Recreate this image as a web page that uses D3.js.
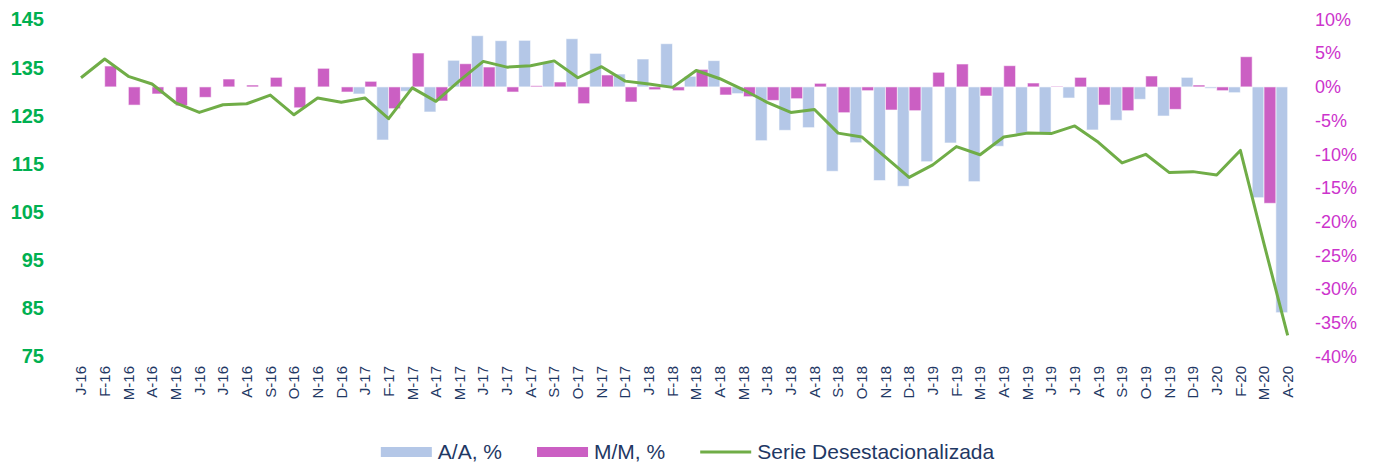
<html>
<head>
<meta charset="utf-8">
<title>Serie Desestacionalizada</title>
<script src="https://cdnjs.cloudflare.com/ajax/libs/d3/7.8.5/d3.min.js"></script>
<style>
  body { margin: 0; background: #fff; }
  text { font-family: "Liberation Sans", Arial, sans-serif; }
</style>
</head>
<body>
<div id="chart"></div>

<script>
// meses, de enero 2016 a abril 2020
var meses = ["J-16","F-16","M-16","A-16","M-16","J-16","J-16","A-16","S-16","O-16","N-16","D-16",
             "J-17","F-17","M-17","A-17","M-17","J-17","J-17","A-17","S-17","O-17","N-17","D-17",
             "J-18","F-18","M-18","A-18","M-18","J-18","J-18","A-18","S-18","O-18","N-18","D-18",
             "J-19","F-19","M-19","A-19","M-19","J-19","J-19","A-19","S-19","O-19","N-19","D-19",
             "J-20","F-20","M-20","A-20"];

// indice (eje izquierdo)
var serie = [132.9,136.8,133.2,131.6,127.7,125.7,127.3,127.5,129.3,125.2,128.7,127.8,
             128.7,124.4,130.8,128.0,132.3,136.3,135.1,135.4,136.4,132.9,135.2,132.2,
             131.6,130.9,134.4,132.7,130.4,127.8,125.7,126.3,121.4,120.6,116.4,112.2,
             114.8,118.6,116.9,120.6,121.4,121.3,122.9,119.5,115.2,117.0,113.2,113.4,
             112.7,117.8,98.4,79.4];

// variacion anual, % (eje derecho)
var aa = [null,null,null,null,null,null,null,null,null,null,null,null,
          -1.05,-7.88,-0.65,-3.72,3.95,7.6,6.86,6.91,3.65,7.15,4.98,1.91,
          4.14,6.41,1.57,3.9,-1.0,-7.98,-6.44,-6.05,-12.52,-8.28,-13.9,-14.75,
          -11.1,-8.32,-14.06,-8.81,-6.99,-6.79,-1.65,-6.39,-4.96,-1.84,-4.32,1.42,
          -0.21,-0.86,-16.44,-33.5];

// variacion mensual, % (eje derecho)
var mm = [null,3.1,-2.7,-1.05,-2.8,-1.55,1.17,0.28,1.42,-3.1,2.76,-0.76,
          0.83,-3.23,5.03,-2.09,3.44,2.95,-0.76,0.18,0.73,-2.49,1.77,-2.24,
          -0.42,-0.56,2.6,-1.2,-1.45,-2.0,-1.75,0.53,-3.83,-0.56,-3.43,-3.53,
          2.17,3.4,-1.35,3.15,0.58,0.1,1.42,-2.69,-3.53,1.62,-3.33,0.28,
          -0.56,4.48,-17.27,null];

var ticksIzq = [75,85,95,105,115,125,135,145];
var ticksDer = [-40,-35,-30,-25,-20,-15,-10,-5,0,5,10];

var colAA = "#b4c7e7", colMM = "#cb5fc3", colLinea = "#70ad47";
var verde = "#00b050", magenta = "#cc33cc", azul = "#1f3864";

var width = 1374, height = 464;
var top_ = 19.5, bottom = 356.5, left = 69.2, right = 1299.5;

var svg = d3.select("#chart")
    .append("svg")
    .attr("width", width)
    .attr("height", height)
    .style("background", "#fff");

// escalas
var x = d3.scaleBand()
    .domain(d3.range(meses.length))
    .range([left, right])
    .padding(0);

var yIzq = d3.scaleLinear().domain([75, 145]).range([bottom, top_]);
var yDer = d3.scaleLinear().domain([-40, 10]).range([bottom, top_]);

var half = x.bandwidth() / 2;

// barras A/A (mitad izquierda)
svg.append("g")
    .selectAll("rect")
    .data(aa.map(function(v, i) { return {i: i, v: v}; }).filter(function(d) { return d.v !== null; }))
    .enter()
    .append("rect")
    .attr("x", function(d) { return x(d.i); })
    .attr("width", half)
    .attr("y", function(d) { return yDer(Math.max(0, d.v)); })
    .attr("height", function(d) { return Math.abs(yDer(d.v) - yDer(0)); })
    .attr("fill", colAA)
    .attr("stroke", "#ffffff")
    .attr("stroke-opacity", 0.6)
    .attr("stroke-width", 1);

// barras M/M (mitad derecha)
svg.append("g")
    .selectAll("rect")
    .data(mm.map(function(v, i) { return {i: i, v: v}; }).filter(function(d) { return d.v !== null; }))
    .enter()
    .append("rect")
    .attr("x", function(d) { return x(d.i) + half; })
    .attr("width", half)
    .attr("y", function(d) { return yDer(Math.max(0, d.v)); })
    .attr("height", function(d) { return Math.abs(yDer(d.v) - yDer(0)); })
    .attr("fill", colMM)
    .attr("stroke", "#ffffff")
    .attr("stroke-opacity", 0.6)
    .attr("stroke-width", 1);

// linea
svg.append("path")
    .datum(serie)
    .attr("fill", "none")
    .attr("stroke", colLinea)
    .attr("stroke-width", 3)
    .attr("stroke-linejoin", "round")
    .attr("d", d3.line()
        .x(function(d, i) { return x(i) + half; })
        .y(function(d) { return yIzq(d); }));

// eje izquierdo
var ejeIzq = svg.append("g")
    .attr("transform", "translate(" + 44 + ",0)")
    .call(d3.axisLeft(yIzq).tickValues(ticksIzq).tickSize(0).tickPadding(0));
ejeIzq.select(".domain").remove();
ejeIzq.selectAll("text")
    .attr("fill", verde)
    .style("font-size", "20px")
    .style("font-weight", "bold")
    .style("font-family", "'Liberation Sans', Arial, sans-serif");

// eje derecho
var ejeDer = svg.append("g")
    .attr("transform", "translate(" + 1315 + ",0)")
    .call(d3.axisRight(yDer).tickValues(ticksDer).tickSize(0).tickPadding(0)
        .tickFormat(function(d) { return d + "%"; }));
ejeDer.select(".domain").remove();
ejeDer.selectAll("text")
    .attr("fill", magenta)
    .style("font-size", "18px")
    .style("font-family", "'Liberation Sans', Arial, sans-serif");

// eje x (etiquetas giradas, centradas en cada mes)
var ejeX = svg.append("g")
    .attr("transform", "translate(0," + 366 + ")")
    .call(d3.axisBottom(x).tickSize(0).tickPadding(0)
        .tickFormat(function(i) { return meses[i]; }));
ejeX.select(".domain").remove();
ejeX.selectAll("text")
    .attr("fill", azul)
    .attr("transform", "rotate(-90)")
    .attr("x", 0)
    .attr("y", 0)
    .attr("dy", "0.35em")
    .style("text-anchor", "end")
    .style("font-size", "15px")
    .style("font-family", "'Liberation Sans', Arial, sans-serif");

// leyenda
var items = [
    {nombre: "A/A, %", tipo: "rect", color: colAA},
    {nombre: "M/M, %", tipo: "rect", color: colMM},
    {nombre: "Serie Desestacionalizada", tipo: "line", color: colLinea}
];
var leyenda = svg.append("g");
var ly = 452, sw = 51, gapTxt = 6, gapItem = 35;
var pos = 0;
items.forEach(function(it) {
    var g = leyenda.append("g").attr("transform", "translate(" + pos + ",0)");
    if (it.tipo === "rect") {
        g.append("rect").attr("x", 0).attr("y", ly - 5).attr("width", sw).attr("height", 10).attr("fill", it.color);
    } else {
        g.append("line").attr("x1", 0).attr("x2", sw).attr("y1", ly).attr("y2", ly)
            .attr("stroke", it.color).attr("stroke-width", 3);
    }
    var t = g.append("text")
        .attr("x", sw + gapTxt)
        .attr("y", ly)
        .attr("dy", "0.35em")
        .attr("fill", azul)
        .style("font-size", "21px")
        .text(it.nombre);
    pos += sw + gapTxt + t.node().getComputedTextLength() + gapItem;
});
var totalW = pos - gapItem;
leyenda.attr("transform", "translate(" + (687.5 - totalW / 2) + ",0)");
</script>
</body>
</html>
